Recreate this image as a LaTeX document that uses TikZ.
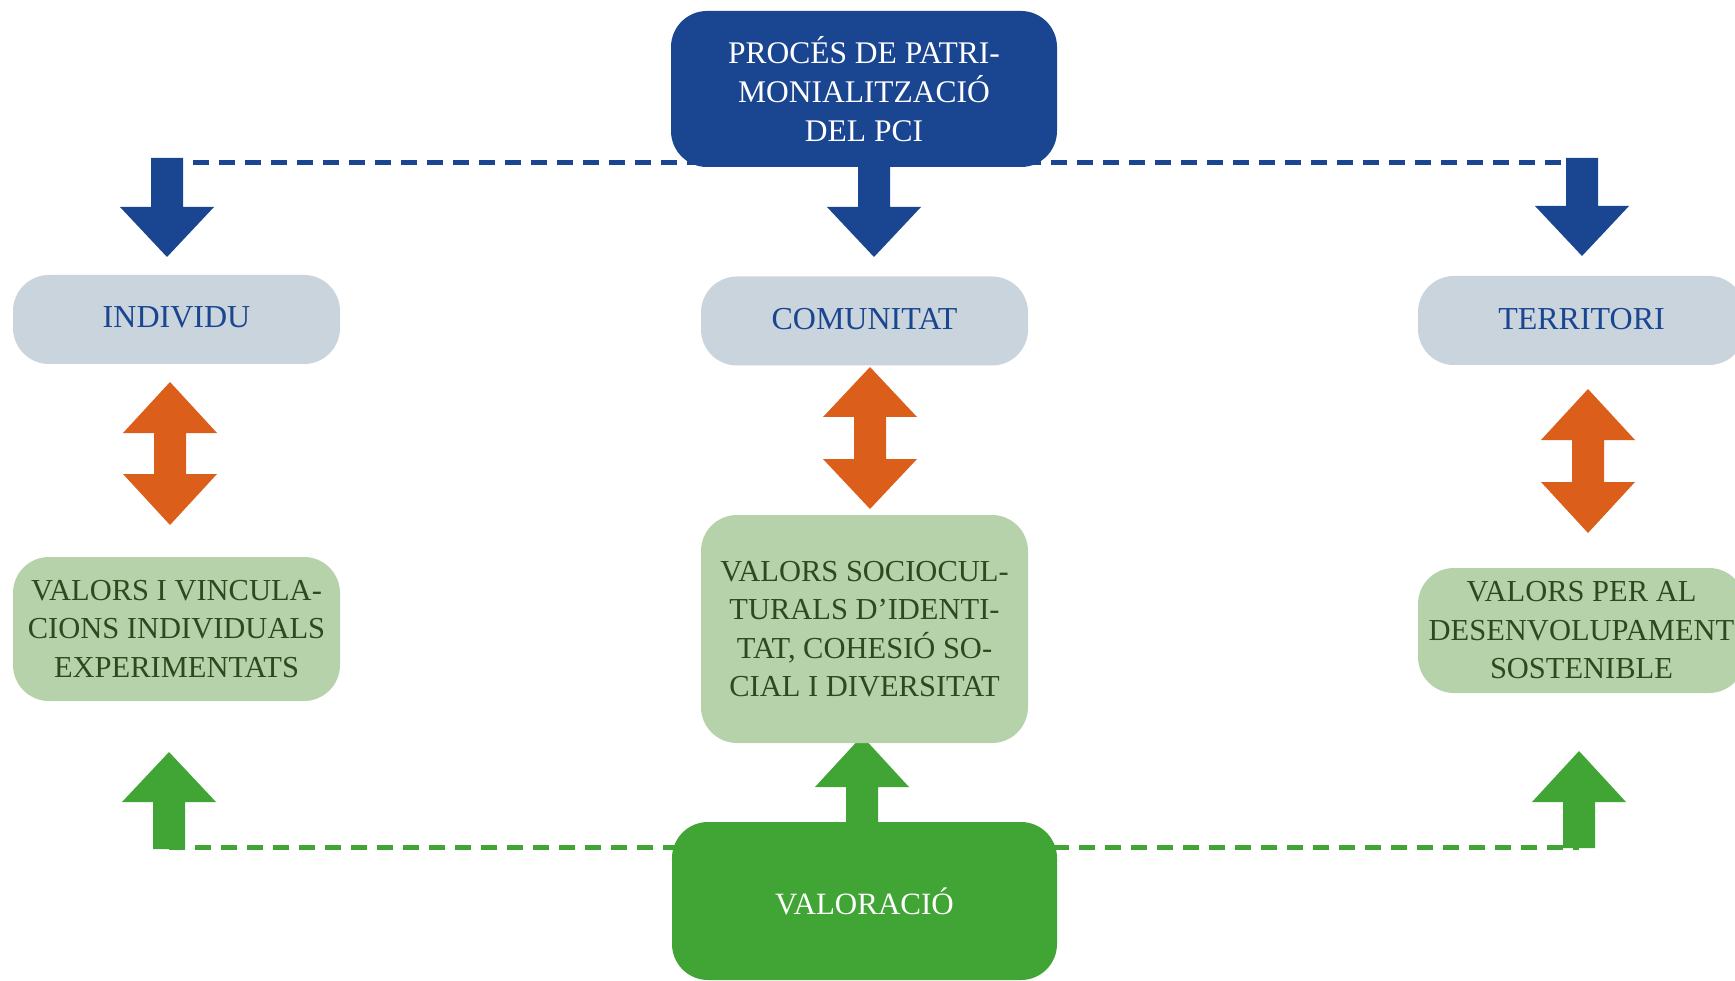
\documentclass[tikz,border=0pt]{standalone}
\usepackage{fontspec}
\setmainfont{Liberation Serif}
\definecolor{pblue}{HTML}{1A4590}
\definecolor{pgrey}{HTML}{C9D4DD}
\definecolor{porange}{HTML}{DB5E1A}
\definecolor{pgreen}{HTML}{40A535}
\definecolor{plgreen}{HTML}{B6D2AA}
\definecolor{pdgreen}{HTML}{2D4A1F}
\newcommand{\blockarrow}[5]{% colour, x, stem end, head base, tip
  \fill[#1] (#2-16,#3) -- (#2+16,#3) -- (#2+16,#4) -- (#2+47,#4) -- (#2,#5) -- (#2-47,#4) -- (#2-16,#4) -- cycle;}
\newcommand{\dblarrow}[5]{% x, top tip, top base, bottom base, bottom tip
  \fill[porange] (#1,#2) -- (#1+47,#3) -- (#1+16,#3) -- (#1+16,#4) -- (#1+47,#4) -- (#1,#5) -- (#1-47,#4) -- (#1-16,#4) -- (#1-16,#3) -- (#1-47,#3) -- cycle;}
\begin{document}
\begin{tikzpicture}[x=1pt,y=-1pt,
  boxbase/.style={rounded corners=36pt, inner sep=0pt, align=center},
  darkbox/.style={boxbase, fill=pblue, text=white, font=\fontsize{31.5}{39}\selectfont},
  greybox/.style={boxbase, fill=pgrey, text=pblue, minimum width=327pt, minimum height=89pt, font=\fontsize{32}{38}\selectfont},
  valbox/.style={boxbase, fill=plgreen, text=pdgreen, minimum width=327pt, font=\fontsize{30.5}{38.5}\selectfont},
  evalbox/.style={boxbase, fill=pgreen, text=white, font=\fontsize{31}{39}\selectfont},
  dashline/.style={line width=5pt, dash pattern=on 16pt off 10pt}
]
\clip (0,0) rectangle (1735,981);
\useasboundingbox (0,0) rectangle (1735,981);

% dashed connectors
\coordinate (bl) at (167,163);
\coordinate (br) at (1582,163);
\coordinate (gl) at (169,847);
\coordinate (gr) at (1579,847);
\draw[dashline, pblue] (bl) -- (br);
\draw[dashline, pgreen] (gl) -- (gr);

% blue down arrows
\blockarrow{pblue}{167}{158}{207}{257}
\blockarrow{pblue}{874}{150}{207}{257}
\blockarrow{pblue}{1582}{158}{206}{256}

% orange double arrows
\dblarrow{170}{382}{433}{474}{525}
\dblarrow{870}{367}{417}{459}{509}
\dblarrow{1588}{389}{440}{482}{533}

% green up arrows
\blockarrow{pgreen}{169}{849}{802}{752}
\blockarrow{pgreen}{862}{840}{787}{736}
\blockarrow{pgreen}{1579}{848}{802}{751}

% boxes
\node[darkbox, minimum width=386pt, minimum height=156pt] (proc) at (864,89)
  {PROCÉS DE PATRI-\\MONIALITZACIÓ\\DEL PCI};
\node[greybox] (ind) at (176.5,319.5) {\raisebox{4pt}{INDIVIDU}};
\node[greybox] (com) at (864.5,321) {\raisebox{4pt}{COMUNITAT}};
\node[greybox] (ter) at (1581.5,320.5) {\raisebox{4pt}{TERRITORI}};
\node[valbox, minimum height=144pt] (vind) at (176.5,629)
  {VALORS I VINCULA-\\CIONS INDIVIDUALS\\EXPERIMENTATS};
\node[valbox, minimum height=228pt] (vcom) at (864.5,629)
  {VALORS SOCIOCUL-\\TURALS D’IDENTI-\\TAT, COHESIÓ SO-\\CIAL I DIVERSITAT};
\node[valbox, minimum height=125pt] (vter) at (1581.5,630.5)
  {VALORS PER AL\\DESENVOLUPAMENT\\SOSTENIBLE};
\node[evalbox, minimum width=385pt, minimum height=158pt] (val) at (864.5,901)
  {VALORACIÓ};
\end{tikzpicture}
\end{document}
